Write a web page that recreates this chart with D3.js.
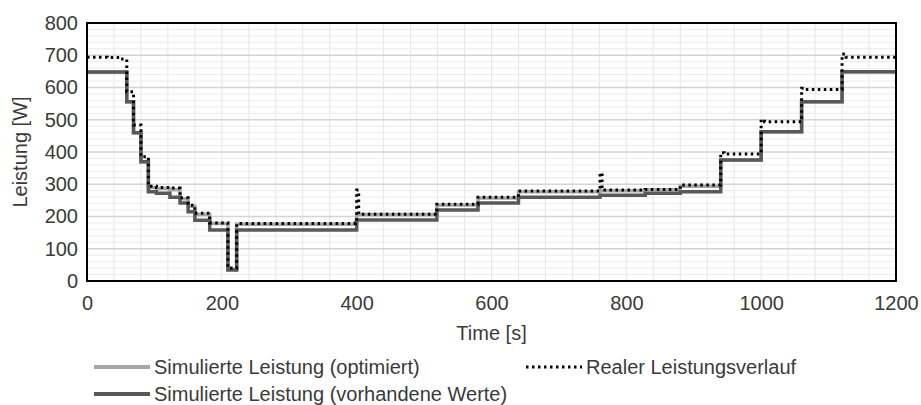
<!DOCTYPE html>
<html>
<head>
<meta charset="utf-8">
<script src="https://cdn.jsdelivr.net/npm/d3@7"></script>
<style>
  body { margin: 0; background: #fff; }
  svg text { font-family: "Liberation Sans", Arial, sans-serif; fill: #3a3a3a; }
</style>
</head>
<body>
<div id="chart"></div>
<script>
// step series: value holds from t[i] until t[i+1]
const vorhandeneT = [0, 59, 69, 80, 91, 103, 123, 138, 150, 160, 182, 209, 222, 400, 519, 580, 640, 761, 828, 880, 940, 1000, 1060, 1120, 1200];
const vorhandeneW = [648, 556, 460, 370, 277, 272, 260, 242, 215, 188, 158, 34, 158, 189, 220, 242, 260, 266, 272, 277, 375, 463, 556, 649, 649];

const optimiertT = [0, 59, 69, 80, 91, 103, 123, 138, 150, 160, 182, 209, 222, 400, 519, 580, 640, 761, 828, 880, 940, 1000, 1060, 1120, 1200];
const optimiertW = [648, 556, 460, 370, 290, 287, 283, 255, 232, 207, 178, 36, 176, 206, 236, 257, 277, 280, 283, 294, 375, 463, 556, 649, 649];

const realT = [0, 30, 50, 59, 69, 80, 91, 103, 123, 138, 150, 160, 182, 209, 222, 398, 400, 403, 519, 580, 640, 759, 761, 764, 828, 880, 940, 945, 1000, 1005, 1060, 1065, 1120, 1126, 1200];
const realW = [694, 693, 688, 587, 484, 385, 294, 290, 288, 258, 235, 210, 180, 40, 178, 180, 282, 207, 238, 260, 279, 279, 335, 282, 284, 298, 398, 394, 500, 494, 598, 594, 704, 694, 694];

const xTicks = [0, 200, 400, 600, 800, 1000, 1200];
const yTicks = [0, 100, 200, 300, 400, 500, 600, 700, 800];

const width = 921, height = 405;
const plot = { left: 87, top: 23, right: 896, bottom: 281 };

const svg = d3.select("#chart").append("svg")
  .attr("width", width)
  .attr("height", height);

const x = d3.scaleLinear().domain([0, 1200]).range([plot.left, plot.right]);
const y = d3.scaleLinear().domain([0, 800]).range([plot.bottom, plot.top]);

// Gridlines
const grid = svg.append("g");
grid.selectAll(".vgrid")
  .data(d3.range(40, 1200, 40))
  .enter().append("line")
  .attr("x1", d => x(d)).attr("x2", d => x(d))
  .attr("y1", plot.top).attr("y2", plot.bottom)
  .style("stroke", "#e6e6e6").style("stroke-width", 1);
grid.selectAll(".hgrid")
  .data(d3.range(20, 800, 20))
  .enter().append("line")
  .attr("x1", plot.left).attr("x2", plot.right)
  .attr("y1", d => y(d)).attr("y2", d => y(d))
  .style("stroke", d => d % 100 === 0 ? "#d4d4d4" : "#ececec")
  .style("stroke-width", d => d % 100 === 0 ? 1.5 : 1);

// Axes (labels only)
const xAxis = svg.append("g")
  .attr("transform", `translate(0,${plot.bottom + 10})`)
  .call(d3.axisBottom(x).tickValues(xTicks).tickFormat(d3.format("d")).tickSize(0).tickPadding(0));
xAxis.select(".domain").remove();
xAxis.selectAll("text").style("font-size", "20px").attr("dy", "0.95em");

const yAxis = svg.append("g")
  .attr("transform", `translate(${plot.left - 9},0)`)
  .call(d3.axisLeft(y).tickValues(yTicks).tickFormat(d3.format("d")).tickSize(0).tickPadding(0));
yAxis.select(".domain").remove();
yAxis.selectAll("text").style("font-size", "20px");

// Lines
const stepLine = (ts, ws) => d3.line()
  .x((d, i) => x(ts[i]))
  .y(d => y(d))
  .curve(d3.curveStepAfter)(ws);

svg.append("path")
  .attr("d", stepLine(optimiertT, optimiertW))
  .style("fill", "none").style("stroke", "#a6a6a6").style("stroke-width", 3.5);

svg.append("path")
  .attr("d", stepLine(vorhandeneT, vorhandeneW))
  .style("fill", "none").style("stroke", "#595959").style("stroke-width", 3.5);

svg.append("path")
  .attr("d", stepLine(realT, realW))
  .style("fill", "none").style("stroke", "#000")
  .style("stroke-width", 3).style("stroke-dasharray", "2.5,3.5");

// Plot border
svg.append("rect")
  .attr("x", plot.left).attr("y", plot.top)
  .attr("width", plot.right - plot.left).attr("height", plot.bottom - plot.top)
  .style("fill", "none").style("stroke", "#000").style("stroke-width", 2);

// Axis titles
svg.append("text")
  .attr("x", (plot.left + plot.right) / 2).attr("y", 340)
  .attr("text-anchor", "middle").style("font-size", "20px")
  .text("Time [s]");

svg.append("text")
  .attr("transform", `translate(27,${(plot.top + plot.bottom) / 2}) rotate(-90)`)
  .attr("text-anchor", "middle").style("font-size", "20px")
  .text("Leistung [W]");

// Legend
const legend = [
  { label: "Simulierte Leistung (optimiert)", x: 94, y: 367, stroke: "#a6a6a6", dash: null, w: 4 },
  { label: "Realer Leistungsverlauf", x: 526, y: 367, stroke: "#000", dash: "2.5,3.5", w: 3 },
  { label: "Simulierte Leistung (vorhandene Werte)", x: 94, y: 394, stroke: "#595959", dash: null, w: 4 }
];
const lg = svg.selectAll(".legend").data(legend).enter().append("g");
lg.append("line")
  .attr("x1", d => d.x).attr("x2", d => d.x + 56)
  .attr("y1", d => d.y).attr("y2", d => d.y)
  .style("stroke", d => d.stroke).style("stroke-width", d => d.w)
  .style("stroke-dasharray", d => d.dash);
lg.append("text")
  .attr("x", d => d.x + 60).attr("y", d => d.y + 7)
  .style("font-size", "20px")
  .text(d => d.label);
</script>
</body>
</html>
